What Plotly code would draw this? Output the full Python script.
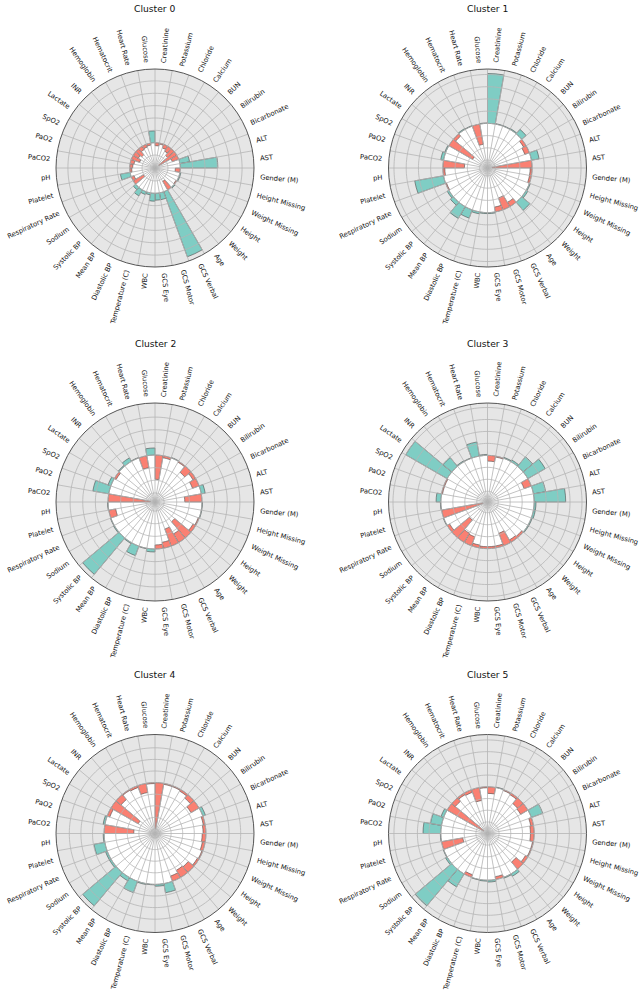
import math
import plotly.graph_objects as go

# ---------------- data ----------------
categories = ["Creatinine", "Potassium", "Chloride", "Calcium", "BUN", "Bilirubin",
              "Bicarbonate", "ALT", "AST", "Gender (M)", "Height Missing", "Weight Missing",
              "Height", "Weight", "Age", "GCS Verbal", "GCS Motor", "GCS Eye", "WBC",
              "Temperature (C)", "Diastolic BP", "Mean BP", "Systolic BP", "Sodium",
              "Respiratory Rate", "Platelet", "pH", "PaCO2", "PaO2", "SpO2", "Lactate",
              "INR", "Hemoglobin", "Hematocrit", "Heart Rate", "Glucose"]

cluster_titles = ["Cluster 0", "Cluster 1", "Cluster 2", "Cluster 3", "Cluster 4", "Cluster 5"]

cluster0 = [-0.3, -0.1, -0.4, -0.6, -0.9, -2.1, -0.7, 1.0, 3.8, -0.5, 0.1, 0.1,
            -0.1, 0.1, -1.0, 7.0, 0.7, 0.7, 0.8, 0.2, 0.3, 0.7, 0.3, -1.2,
            -0.3, 1.0, -0.2, -0.3, -0.4, -0.9, -0.6, -0.8, -0.4, -0.3, -0.2, 1.2]
cluster1 = [5.1, 0.05, 0.05, 0.1, 0.6, -0.3, -0.5, 0.8, -4.1, -0.2, -0.2, 0.1,
            0.2, 1.1, -0.5, -1.3, -0.5, 0.1, 0.1, 0.2, 0.9, 1.4, 0.4, 0.2,
            -0.1, 3.0, -0.2, -2.2, 0.3, 0.1, -2.8, -0.3, 0.1, 0.05, -2.1, 0.05]
cluster2 = [-2.4, -0.2, 0.05, -0.1, -0.8, -0.3, -0.7, 0.4, -1.7, 0.05, 0.05, -0.1,
            -0.3, -2.1, -1.0, -1.8, -0.6, -0.4, 0.3, 0.05, 1.0, 0.1, 4.7, 0.1,
            0.05, -0.7, 0.05, -4.2, 1.6, 0.3, -0.2, 0.1, 0.4, 0.05, -1.2, 0.7]
cluster3 = [-0.6, -0.1, 0.1, 0.2, 1.3, 2.1, -0.8, 1.3, 3.3, 0.2, 0.2, 0.1,
            0.1, -0.2, -0.3, -1.4, -0.2, -0.2, -0.2, -0.3, -1.0, -1.1, -2.4, -0.3,
            0.05, -4.4, 0.05, 0.5, -0.1, -0.1, 5.0, 1.2, 0.1, 0.05, 1.5, 0.1]
cluster4 = [-5.0, -0.1, -0.1, -0.2, -0.5, -1.0, 0.3, -0.2, -0.3, -0.4, -0.3, -0.1,
            -0.2, -0.8, -0.9, -0.6, 1.0, 0.2, 0.05, 0.1, 1.3, 0.4, 4.7, 0.2,
            0.2, 1.2, 0.1, -3.2, 0.2, -0.3, -3.4, -0.7, -0.1, -0.2, -1.0, -0.1]
cluster5 = [-0.7, 0.05, -0.1, -0.2, -0.8, -0.9, 1.3, -0.3, -0.4, -0.4, -0.1, -0.1,
            -0.3, -1.0, 0.3, 0.1, -0.3, 0.2, 0.1, 0.05, -0.3, 1.6, 5.1, 0.2,
            0.05, -2.3, 0.05, 1.9, 1.2, 0.3, -4.5, -0.5, -0.2, -0.3, -1.4, -0.1]

clusters = [cluster0, cluster1, cluster2, cluster3, cluster4, cluster5]
ring_steps = [1.25, 1.25, 1.25, 1.25, 1.25, 1.25]

# ---------------- style ----------------
W, H = 643, 991
R = 99
centers_x = [155, 487.5]
centers_y = [168, 502, 833.5]
TITLE_OFFSET = 159
TEAL = "#7fcdc4"
SALMON = "#fa8072"
BG = "#e6e6e6"
GRID = "#b5b5b5"
EDGE = "#4d4d4d"
FONT = "DejaVu Sans"
LABEL_SIZE = 6.8
TITLE_SIZE = 9.2

# approximate DejaVu Sans advance widths (em)
CW = {'a': .613, 'b': .635, 'c': .550, 'd': .635, 'e': .615, 'f': .352, 'g': .635, 'h': .634,
      'i': .278, 'j': .278, 'k': .579, 'l': .278, 'm': .974, 'n': .634, 'o': .612, 'p': .635,
      'q': .635, 'r': .411, 's': .521, 't': .392, 'u': .634, 'v': .592, 'w': .818, 'x': .592,
      'y': .592, 'z': .525, 'A': .684, 'B': .686, 'C': .698, 'D': .770, 'E': .632, 'F': .575,
      'G': .775, 'H': .752, 'I': .295, 'J': .295, 'K': .656, 'L': .557, 'M': .863, 'N': .748,
      'O': .787, 'P': .603, 'Q': .787, 'R': .695, 'S': .635, 'T': .611, 'U': .732, 'V': .684,
      'W': .989, 'X': .685, 'Y': .611, 'Z': .685, ' ': .318, '(': .390, ')': .390}


def text_len(s, size):
    return sum(CW.get(ch, .636) for ch in s) * size


n = len(categories)
width_deg = 360.0 / n
theta_centers = [width_deg * (i + 0.5) for i in range(n)]
spoke_angles = [width_deg * i for i in range(n)]

fig = go.Figure()
annotations = []

for k, vals in enumerate(clusters):
    row, col = divmod(k, 2)
    cx, cy = centers_x[col], centers_y[row]
    sub = "polar" if k == 0 else f"polar{k + 1}"

    vmin, vmax = min(vals), max(vals)
    span = vmax - vmin
    rmin = vmin - 0.05 * span
    rmax = vmax + 0.05 * span

    # white inner disk (below baseline 0)
    fig.add_trace(go.Barpolar(
        r=[-rmin] * n, base=[rmin] * n, theta=theta_centers, width=[width_deg] * n,
        marker=dict(color="white", line=dict(width=0)),
        subplot=sub, hoverinfo="skip", showlegend=False))

    # concentric grid rings
    step = ring_steps[k]
    ring_theta = [t for t in range(0, 361, 2)]
    kk = math.ceil(rmin / step)
    while kk * step < rmax - 0.2 * step:
        rv = kk * step
        if rv > rmin + 0.05 * step:
            fig.add_trace(go.Scatterpolar(
                r=[rv] * len(ring_theta), theta=ring_theta, mode="lines",
                line=dict(color=GRID, width=0.8), subplot=sub,
                hoverinfo="skip", showlegend=False))
        kk += 1

    # spokes
    sr, st = [], []
    for a in spoke_angles:
        sr += [rmin, rmax, None]
        st += [a, a, None]
    fig.add_trace(go.Scatterpolar(
        r=sr, theta=st, mode="lines", line=dict(color=GRID, width=0.8),
        subplot=sub, hoverinfo="skip", showlegend=False, connectgaps=False))

    # bars
    base = [0 if v >= 0 else v for v in vals]
    length = [abs(v) for v in vals]
    colors = [TEAL if v >= 0 else SALMON for v in vals]
    fig.add_trace(go.Barpolar(
        r=length, base=base, theta=theta_centers, width=[width_deg] * n,
        marker=dict(color=colors, line=dict(color=EDGE, width=0.6)),
        subplot=sub, showlegend=False, hovertext=categories))

    fig.layout[sub] = dict(
        domain=dict(x=[(cx - R) / W, (cx + R) / W], y=[1 - (cy + R) / H, 1 - (cy - R) / H]),
        bgcolor=BG,
        barmode="overlay",
        radialaxis=dict(range=[rmin, rmax], showgrid=False, showticklabels=False,
                        ticks="", showline=False),
        angularaxis=dict(direction="clockwise", rotation=90, showgrid=False,
                         showticklabels=False, ticks="", showline=True,
                         linecolor="#555555", linewidth=1),
    )

    # category labels (radial orientation)
    for lab, th in zip(categories, theta_centers):
        L = text_len(lab, LABEL_SIZE)
        d = R + 6.5 + L / 2
        rad = math.radians(th)
        px = cx + d * math.sin(rad)
        py = cy - d * math.cos(rad)
        ang = th - 90 if th < 180 else th - 270
        annotations.append(dict(
            x=px / W, y=1 - py / H, xref="paper", yref="paper", text=lab,
            showarrow=False, textangle=ang, xanchor="center", yanchor="middle",
            font=dict(family=FONT, size=LABEL_SIZE, color="#111111"), borderpad=0))

    annotations.append(dict(
        x=cx / W, y=1 - (cy - TITLE_OFFSET) / H, xref="paper", yref="paper",
        text=cluster_titles[k], showarrow=False, xanchor="center", yanchor="middle",
        font=dict(family=FONT, size=TITLE_SIZE, color="#111111")))

fig.update_layout(
    width=W, height=H, margin=dict(l=0, r=0, t=0, b=0),
    paper_bgcolor="white", plot_bgcolor="white",
    annotations=annotations, showlegend=False)

fig.write_html("out.html")
